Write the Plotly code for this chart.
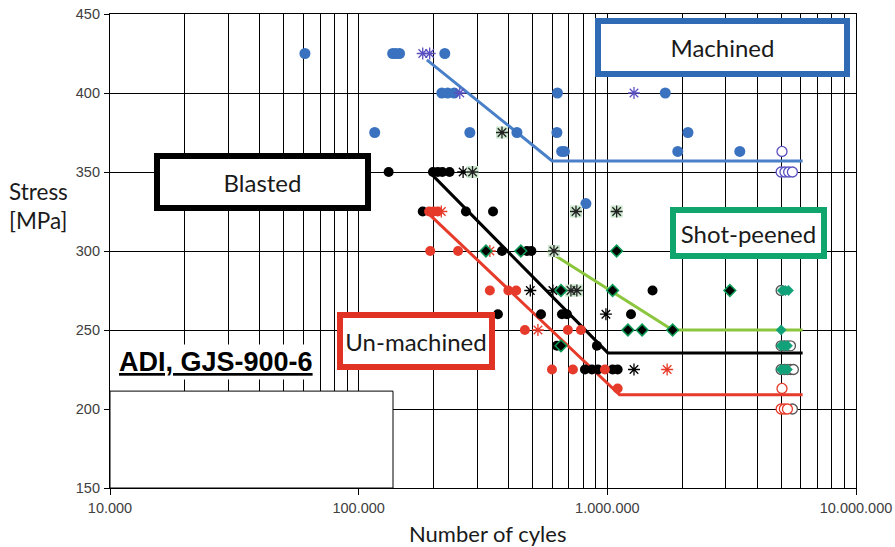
import plotly.graph_objects as go

# ---------------- data (N cycles, stress MPa) ----------------
# Machined
mach_N = [60800, 137000, 141000, 146000, 222000,
          216000, 228000, 242000, 630000, 1710000,
          116000, 280000, 433000, 627000, 2110000,
          655000, 672000, 1920000, 3410000,
          820000]
mach_S = [425, 425, 425, 425, 425,
          400, 400, 400, 400, 400,
          375, 375, 375, 375, 375,
          363, 363, 363, 363,
          330]
mach_star_N = [181000, 193000, 255000, 1280000]
mach_star_S = [425, 425, 400, 400]
mach_run_N = [5040000, 5000000, 5180000, 5360000, 5550000]
mach_run_S = [363, 350, 350, 350, 350]
mach_line_N = [188000, 600000, 6100000]
mach_line_S = [421, 357, 357]

# Blasted
blast_N = [132000, 199000, 208000, 217000, 232000,
           181000, 270000, 347000,
           377000, 475000, 495000,
           1520000,
           363000, 541000, 657000, 688000, 1245000,
           627000, 908000,
           813000, 867000, 917000, 1050000, 1100000]
blast_S = [350, 350, 350, 350, 350,
           325, 325, 325,
           300, 300, 300,
           275,
           260, 260, 260, 260, 260,
           240, 240,
           225, 225, 225, 225, 225]
blast_star_N = [263000, 490000, 604000, 987000, 1280000]
blast_star_S = [350, 275, 275, 260, 225]
blast_run_N = [5000000, 5000000, 5150000, 5300000, 5450000,
               5000000, 5150000, 5300000, 5450000, 5600000, 5550000]
blast_run_S = [275, 240, 240, 240, 240,
               225, 225, 225, 225, 225, 200]
blast_line_N = [198000, 1005000, 6100000]
blast_line_S = [348, 235.5, 235.5]

# Un-machined
unm_N = [192000, 200000, 208000,
         194000, 251000,
         337000, 400000, 430000,
         466000, 694000, 783000,
         599000, 727000, 978000,
         1100000]
unm_S = [325, 325, 325,
         300, 300,
         275, 275, 275,
         250, 250, 250,
         225, 225, 225,
         213]
unm_star_N = [215000, 337000, 526000, 1740000]
unm_star_S = [325, 300, 250, 225]
unm_run_N = [5040000, 5000000, 5150000, 5300000]
unm_run_S = [213, 200, 200, 200]
unm_line_N = [190000, 1120000, 6100000]
unm_line_S = [324, 209, 209]

# Shot-peened
shot_N = [325000, 449000, 1090000,
          651000, 1050000, 3110000,
          1210000, 1380000, 1830000,
          651000]
shot_S = [300, 300, 300,
          275, 275, 275,
          250, 250, 250,
          240]
shot_star_N = [287000, 377000, 748000, 1090000, 610000, 714000, 754000]
shot_star_S = [350, 375, 325, 325, 300, 275, 275]
shot_run_N = [5050000, 5200000, 5350000, 5000000,
              5000000, 5150000, 5300000,
              5000000, 5150000, 5300000]
shot_run_S = [275, 275, 275, 250,
              240, 240, 240,
              225, 225, 225]
shot_line_N = [577000, 1830000, 6100000]
shot_line_S = [300, 250, 250]

x_tickvals = [1e4, 1e5, 1e6, 1e7]
x_ticktext = ["10.000", "100.000", "1.000.000", "10.000.000"]
x_minor = [m * 10 ** e for e in (4, 5, 6) for m in range(2, 10)]
y_tickvals = [150, 200, 250, 300, 350, 400, 450]

# ---------------- styles ----------------
BLUE = "#3a72bf"
BLUE_LINE = "#4a80c8"
PURPLE = "#5a50c0"
RED = "#e63a2a"
GREEN_LINE = "#8cc63f"
GREEN_EDGE = "#0a9b55"
TEAL = "#12a27a"
LIGHTGREEN = "#cde8cf"

fig = go.Figure()

def line(N, S, color):
    fig.add_trace(go.Scatter(x=N, y=S, mode="lines",
                             line=dict(color=color, width=3)))

def pts(N, S, color, symbol="circle", size=10, lcolor=None, lwidth=0):
    fig.add_trace(go.Scatter(x=N, y=S, mode="markers",
                             marker=dict(color=color, symbol=symbol, size=size,
                                         line=dict(color=lcolor or color, width=lwidth))))

line(mach_line_N, mach_line_S, BLUE_LINE)
line(blast_line_N, blast_line_S, "black")
line(unm_line_N, unm_line_S, RED)
line(shot_line_N, shot_line_S, GREEN_LINE)

pts(mach_N, mach_S, BLUE, size=11)
pts(mach_star_N, mach_star_S, PURPLE, symbol="asterisk-open", size=10, lwidth=1.3)
pts(mach_run_N, mach_run_S, "white", symbol="circle", size=10, lcolor=PURPLE, lwidth=1.3)

pts(blast_N, blast_S, "black", size=10)
pts(blast_star_N, blast_star_S, "black", symbol="asterisk-open", size=10, lwidth=1.3)
pts(blast_run_N, blast_run_S, "white", symbol="circle", size=10, lcolor="#555555", lwidth=1.3)

pts(unm_N, unm_S, RED, size=10)
pts(unm_star_N, unm_star_S, RED, symbol="asterisk-open", size=10, lwidth=1.3)
pts(unm_run_N, unm_run_S, "white", symbol="circle", size=10, lcolor=RED, lwidth=1.3)

pts(shot_star_N, shot_star_S, LIGHTGREEN, symbol="square", size=12)
pts(shot_star_N, shot_star_S, "#222222", symbol="asterisk-open", size=10, lwidth=1.3)
pts(shot_N, shot_S, "black", symbol="diamond", size=9, lcolor=GREEN_EDGE, lwidth=1.5)
pts(shot_run_N, shot_run_S, TEAL, symbol="diamond", size=8, lcolor=TEAL, lwidth=0.5)

# ---------------- layout ----------------
L, R, T, B = 110, 856, 13.5, 488
W, H = 895, 547
PW, PH = R - L, B - T

def px(x):
    return (x - L) / PW

def py(y):
    return (B - y) / PH

tickfont = dict(family="Liberation Sans, Arial, sans-serif", size=14.5, color="#404040")
fig.update_layout(
    width=W, height=H, autosize=False,
    margin=dict(l=L, r=W - R, t=T, b=H - B),
    paper_bgcolor="white", plot_bgcolor="white",
    showlegend=False,
    xaxis=dict(type="log", range=[4, 7], tickmode="array", automargin=False,
               tickvals=x_tickvals, ticktext=x_ticktext,
               showgrid=True, gridcolor="black", gridwidth=1,
               showline=True, linecolor="black", linewidth=1.2, mirror=True,
               ticks="outside", ticklen=6, tickcolor="black",
               ticklabelstandoff=0, tickfont=tickfont, zeroline=False,
               minor=dict(tickvals=x_minor, showgrid=True, gridcolor="black",
                          gridwidth=1, ticks="")),
    yaxis=dict(range=[150, 450], tickmode="array", tickvals=y_tickvals, automargin=False,
               showgrid=True, gridcolor="black", gridwidth=1,
               showline=True, linecolor="black", linewidth=1.2, mirror=True,
               ticks="outside", ticklen=5, tickcolor="black",
               ticklabelstandoff=1, tickfont=tickfont, zeroline=False),
)

# white box lower-left
fig.add_shape(type="rect", xref="paper", yref="paper",
              x0=0, x1=px(393), y0=0, y1=py(391),
              fillcolor="white", line=dict(color="black", width=1), layer="above")

lblfont = dict(family="Lato, Open Sans, sans-serif", size=24, color="#1a1a1a")

def box(text, cx, cy, w, h, color):
    fig.add_annotation(xref="paper", yref="paper", x=px(cx), y=py(cy),
                       xanchor="center", yanchor="middle", text=text,
                       showarrow=False, font=lblfont, bgcolor="white",
                       bordercolor=color, borderwidth=6, borderpad=0,
                       width=w - 12, height=h - 12)

box("Machined", 722.5, 47.5, 255, 59, "#2f6bb5")
box("Blasted", 262.5, 181.5, 217, 58, "black")
box("Shot-peened", 748.5, 233, 157, 52, "#11a56e")
box("Un-machined", 416, 341, 158, 58, "#e03323")

fig.add_annotation(xref="paper", yref="paper", x=px(116), y=py(362),
                   xanchor="left", yanchor="middle",
                   text="<b><u>ADI, GJS-900-6</u></b>", showarrow=False,
                   font=dict(family="Liberation Sans, Arial, sans-serif", size=27, color="black"),
                   bgcolor="white", borderpad=2)

fig.add_annotation(xref="paper", yref="paper", x=px(7), y=py(206),
                   xanchor="left", yanchor="middle", align="left",
                   text="Stress<br>[MPa]", showarrow=False,
                   font=dict(family="Lato, Open Sans, sans-serif", size=22.5, color="#1a1a1a"))

fig.add_annotation(xref="paper", yref="paper", x=px(487), y=py(534),
                   xanchor="center", yanchor="middle",
                   text="Number of cyles", showarrow=False,
                   font=dict(family="Lato, Open Sans, sans-serif", size=22, color="#1a1a1a"))

fig.write_html("out.html")
